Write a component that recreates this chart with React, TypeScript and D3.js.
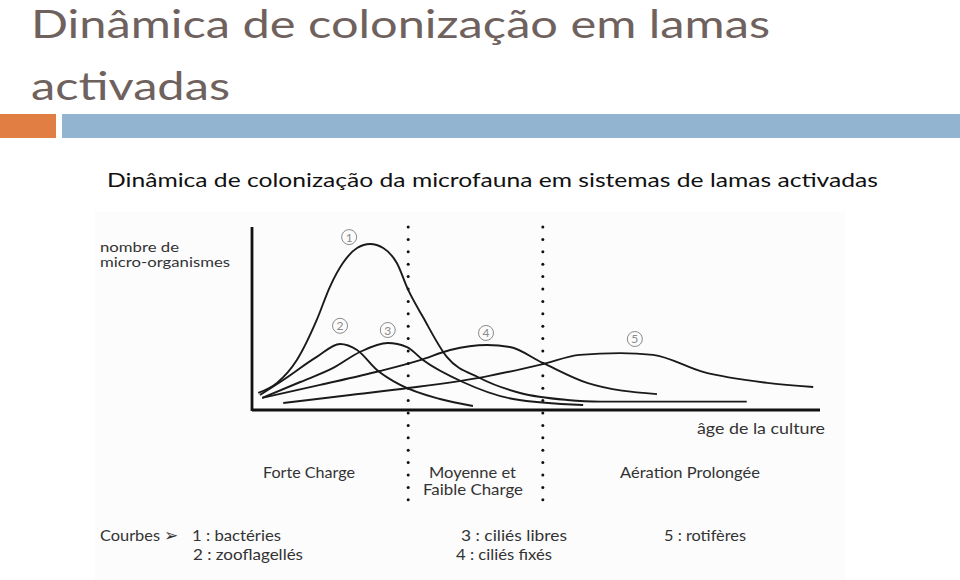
import React from "react";
import * as d3 from "d3";

// ---------- data (x: âge de la culture 0-100, y: nombre de micro-organismes 0-100) ----------
const curveLabels = ["1", "2", "3", "4", "5"];
const curveNames = ["bactéries", "zooflagellés", "ciliés libres", "ciliés fixés", "rotifères"];

const bacteriesX = [1.1, 4.4, 7.9, 11.4, 13.7, 16.0, 18.5, 20.8, 23.1, 25.5, 27.5, 30.1, 34.3, 40.1, 47.2, 55.5, 61.3, 87.1];
const bacteriesY = [9.3, 14.8, 27.3, 49.2, 67.2, 80.3, 88.5, 90.7, 88.5, 80.3, 65.6, 50.8, 29.0, 17.5, 9.3, 5.5, 4.6, 4.6];

const zooflagellesX = [1.4, 5.5, 11.4, 15.5, 18.5, 22.0, 26.1, 33.1, 38.9];
const zooflagellesY = [8.2, 16.4, 29.0, 36.1, 32.8, 21.9, 13.7, 6.0, 2.2];

const ciliesLibresX = [1.8, 8.5, 14.3, 19.0, 23.9, 27.3, 30.1, 37.1, 46.0, 58.3];
const ciliesLibresY = [6.6, 15.3, 23.0, 31.7, 36.6, 34.4, 27.3, 15.3, 6.0, 2.7];

const ciliesFixesX = [1.8, 12.0, 22.5, 29.6, 34.9, 41.4, 45.4, 51.2, 59.0, 71.3];
const ciliesFixesY = [6.6, 13.7, 21.3, 27.3, 32.8, 35.5, 34.4, 25.7, 14.8, 8.7];

const rotiferesX = [5.5, 17.3, 27.5, 40.7, 51.2, 57.7, 64.8, 70.6, 79.4, 90.7, 98.8];
const rotiferesY = [3.8, 8.2, 12.0, 18.0, 25.1, 30.1, 31.1, 30.1, 20.8, 14.8, 12.6];

// label position (x, y in data units) for each circled number
const labelX = [17.1, 15.5, 23.9, 41.2, 67.4];
const labelY = [94.5, 46.0, 43.7, 42.1, 38.8];

// regime boundaries (âge de la culture)
const boundaries = [27.5, 51.2];
const regimeNames = ["Forte Charge", "Moyenne et|Faible Charge", "Aération Prolongée"];

const seriesX = [bacteriesX, zooflagellesX, ciliesLibresX, ciliesFixesX, rotiferesX];
const seriesY = [bacteriesY, zooflagellesY, ciliesLibresY, ciliesFixesY, rotiferesY];

type TProps = {
  x: number; y: number; w?: number; size: number; fill?: string; family?: string;
  anchor?: "start" | "middle" | "end"; children: React.ReactNode;
};
const T = ({ x, y, w, size, fill = "#333", family = "Lato, 'Open Sans', sans-serif", anchor = "start", children }: TProps) => (
  <text
    x={x}
    y={y}
    fontSize={size}
    fill={fill}
    fontFamily={family}
    textAnchor={anchor}
    {...(w ? { textLength: w, lengthAdjust: "spacingAndGlyphs" } : {})}
  >
    {children}
  </text>
);

export default function App() {
  const W = 960, H = 580;
  const x = d3.scaleLinear().domain([0, 100]).range([252, 820]);
  const y = d3.scaleLinear().domain([0, 100]).range([410, 227]);

  const line = d3
    .line<[number, number]>()
    .x((d) => x(d[0]))
    .y((d) => y(d[1]))
    .curve(d3.curveMonotoneX);

  const dotYs = d3.range(227, 500, 12.4);
  const titleColor = "#6F625E";
  const scanFont = "Lato, 'Open Sans', sans-serif";

  return (
    <svg width={W} height={H} style={{ position: "absolute", left: 0, top: 0, background: "#fff" }}>
      {/* slide title */}
      <T x={31} y={38} w={739} size={39} fill={titleColor}>Dinâmica de colonização em lamas</T>
      <T x={31} y={100} w={199} size={39} fill={titleColor}>activadas</T>
      <rect x={0} y={114} width={56} height={24} fill="#E07E44" />
      <rect x={62} y={114} width={898} height={24} fill="#93B4D1" />
      <T x={107} y={187} w={771} size={20} fill="#111">Dinâmica de colonização da microfauna em sistemas de lamas activadas</T>

      {/* scanned figure background */}
      <rect x={95} y={212} width={750} height={368} fill="#FCFCFC" />

      {/* y label */}
      <T x={100} y={252} w={79} size={13} family={scanFont}>nombre de</T>
      <T x={100} y={267} w={130} size={13} family={scanFont}>micro-organismes</T>

      {/* boundaries (dotted) */}
      {boundaries.map((b, i) =>
        dotYs.map((dy, j) => <circle key={`d${i}-${j}`} cx={x(b)} cy={dy} r={1.5} fill="#111" />)
      )}

      {/* curves */}
      {seriesX.map((xs, i) => {
        const pts = xs.map((v, k) => [v, seriesY[i][k]] as [number, number]);
        return <path key={`c${i}`} d={line(pts) || ""} fill="none" stroke="#1a1a1a" strokeWidth={1.9} />;
      })}

      {/* circled labels */}
      {curveLabels.map((l, i) => (
        <g key={`l${l}`}>
          <circle cx={x(labelX[i])} cy={y(labelY[i])} r={7.5} fill="none" stroke="#8a8a8a" strokeWidth={1} />
          <text
            x={x(labelX[i])}
            y={y(labelY[i]) + 4.5}
            fontSize={12}
            fill="#8a8a8a"
            fontFamily="Lato, sans-serif"
            textAnchor="middle"
          >
            {l}
          </text>
        </g>
      ))}

      {/* axes */}
      <line x1={x(0)} x2={x(0)} y1={y(0) + 1} y2={y(100)} stroke="#111" strokeWidth={2.8} />
      <line x1={x(0)} x2={x(100)} y1={y(0)} y2={y(0)} stroke="#111" strokeWidth={2.8} />
      <T x={825} y={434} w={128} size={15} anchor="end" family={scanFont}>âge de la culture</T>

      {/* regimes */}
      <T x={263} y={478} w={92} size={15} family={scanFont}>{regimeNames[0]}</T>
      <T x={429} y={478} w={87} size={15} family={scanFont}>{regimeNames[1].split("|")[0]}</T>
      <T x={423} y={495} w={100} size={15} family={scanFont}>{regimeNames[1].split("|")[1]}</T>
      <T x={620} y={478} w={140} size={15} family={scanFont}>{regimeNames[2]}</T>

      {/* legend */}
      <T x={100} y={541} w={60} size={15} family={scanFont}>Courbes</T>
      <text x={164} y={541} fontSize={17} fill="#333" fontFamily="DejaVu Sans, sans-serif">➢</text>
      <T x={192} y={541} w={89} size={15} family={scanFont}>{`${curveLabels[0]} : ${curveNames[0]}`}</T>
      <T x={193} y={560} w={110} size={15} family={scanFont}>{`${curveLabels[1]} : ${curveNames[1]}`}</T>
      <T x={461} y={541} w={106} size={15} family={scanFont}>{`${curveLabels[2]} : ${curveNames[2]}`}</T>
      <T x={456} y={560} w={96} size={15} family={scanFont}>{`${curveLabels[3]} : ${curveNames[3]}`}</T>
      <T x={664} y={541} w={82} size={15} family={scanFont}>{`${curveLabels[4]} : ${curveNames[4]}`}</T>
    </svg>
  );
}
